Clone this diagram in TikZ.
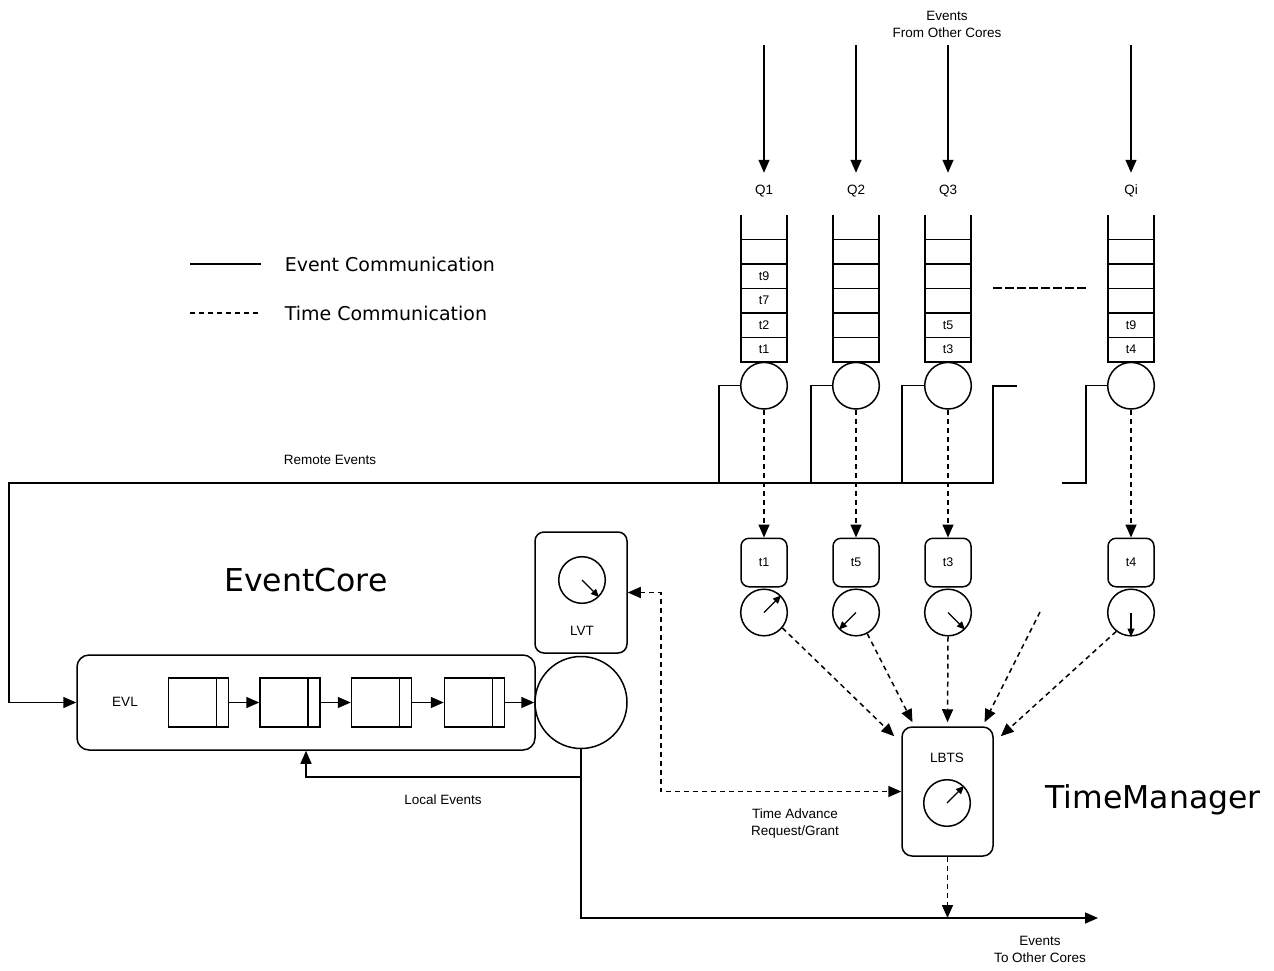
\documentclass[tikz,border=0pt]{standalone}
\usepackage{fontspec}
\setmainfont{Liberation Sans}
\newfontfamily\bigfont{DejaVu Sans}
\usetikzlibrary{arrows.meta,calc}
\begin{document}
\begin{tikzpicture}[x=1pt,y=-1pt, line width=1.5pt,
  tip/.style={-{Triangle[length=13pt,width=11pt]}},
  bothtips/.style={{Triangle[length=13pt,width=11pt]}-{Triangle[length=13pt,width=11pt]}},
  dsh/.style={dash pattern=on 5pt off 4pt},
  lbl/.style={font=\fontsize{13.5}{17}\selectfont, align=center, inner sep=0pt},
  tlab/.style={font=\fontsize{12.5}{14}\selectfont, inner sep=0pt},
  big/.style={font=\bigfont\fontsize{31.5}{36}\selectfont, inner sep=0pt},
  legend/.style={font=\bigfont\fontsize{19}{22}\selectfont, inner sep=0pt, anchor=west},
  qcirc/.style={circle, draw, minimum size=46.6pt, inner sep=0pt},
  cell/.style={draw, minimum width=46pt, minimum height=24.5pt, inner sep=0pt},
  rbox/.style={draw, rounded corners=8pt, minimum width=46pt, minimum height=48.5pt, inner sep=0pt},
  evbox/.style={draw, minimum width=60pt, minimum height=49pt, inner sep=0pt},
  needle/.style={line width=1.3pt, -{Triangle[length=8pt,width=7pt]}}
]
\useasboundingbox (0,0) rectangle (1274,970);

% legend
\coordinate (lg1a) at (190,264); \coordinate (lg1b) at (261,264);
\coordinate (lg2a) at (190,313); \coordinate (lg2b) at (261,313);
\draw (lg1a) -- (lg1b);
\draw[dsh, line width=1.2pt] (lg2a) -- (lg2b);
\node[legend] (lgt1) at (284,264) {Event Communication};
\node[legend] (lgt2) at (284,313) {Time Communication};

% titles
\node[big] (ectitle) at (306,580) {EventCore};
\node[big] (tmtitle) at (1153,800) {TimeManager};

% top label
\node[lbl] (fromcores) at (947,24) {Events\\From Other Cores};

% queues
\foreach \X/\n in {764/1, 856/2, 948/3, 1131/4}{
  \coordinate (top\n) at (\X,45);
  \node[lbl] (ql\n) at (\X,191) {};
  \foreach \k/\yy in {1/251.5, 2/276, 3/300.5, 4/325, 5/349.5}
    \node[cell] (q\n c\k) at (\X,\yy) {};
  \draw (\X-23,215) -- (\X-23,239.25) (\X+23,215) -- (\X+23,239.25);
  \node[qcirc] (c\n) at (\X,385.7) {};
  \node[rbox] (tb\n) at (\X,562.5) {};
  \node[qcirc] (k\n) at (\X,612.5) {};
}
\node[lbl] at (ql1) {Q1};
\node[lbl] at (ql2) {Q2};
\node[lbl] at (ql3) {Q3};
\node[lbl] at (ql4) {Qi};
\foreach \n in {1,2,3,4}
  \draw[tip, shorten >=17pt] (top\n) -- (ql\n.north);

% cell contents
\node[tlab] at (q1c2) {t9};
\node[tlab] at (q1c3) {t7};
\node[tlab] at (q1c4) {t2};
\node[tlab] at (q1c5) {t1};
\node[tlab] at (q3c4) {t5};
\node[tlab] at (q3c5) {t3};
\node[tlab] at (q4c4) {t9};
\node[tlab] at (q4c5) {t4};

% t boxes labels
\node[tlab] at (tb1) {t1};
\node[tlab] at (tb2) {t5};
\node[tlab] at (tb3) {t3};
\node[tlab] at (tb4) {t4};

% clock needles
\draw[needle] (k1.center) -- (k1.45);
\draw[needle] (k2.center) -- (k2.225);
\draw[needle] (k3.center) -- (k3.-45);
\draw[needle] (k4.center) -- (k4.south);

% dots between queues
\coordinate (dotsa) at (993,288); \coordinate (dotsb) at (1087,288);
\draw[line width=1.2pt, dash pattern=on 9pt off 3pt] (dotsa) -- (dotsb);

% dashed queue -> t boxes
\foreach \n in {1,2,3,4}
  \draw[dsh, tip] (c\n.south) -- (tb\n.north);

% remote events lines
\coordinate (r1) at (719,483);
\coordinate (r2) at (811,483);
\coordinate (r3) at (902,483);
\coordinate (rend) at (1017,386);
\coordinate (r4a) at (1086,483);
\coordinate (r4b) at (1062,483);
\draw (c1.west) -| (r1);
\draw (c2.west) -| (r2);
\draw (c3.west) -| (r3);
\draw (c4.west) -| (r4a) -- (r4b);

% EventCore
\node[draw, rounded corners=12pt, minimum width=458pt, minimum height=95pt, inner sep=0pt] (evl) at (306,702.5) {};
\node[lbl] (evllab) at (125,702) {EVL};
\node[evbox] (ev1) at (198.5,702.5) {};
\node[evbox] (ev2) at (290,702.5) {};
\node[evbox] (ev3) at (381.5,702.5) {};
\node[evbox] (ev4) at (474.5,702.5) {};
\foreach \n in {1,2,3,4}
  \draw ($(ev\n.north east)+(-13,0)$) -- ($(ev\n.south east)+(-13,0)$);
\node[circle, draw, minimum size=92pt, inner sep=0pt] (cpu) at (581,702.5) {};
\draw[tip] (ev1.east) -- (ev2.west);
\draw[tip] (ev2.east) -- (ev3.west);
\draw[tip] (ev3.east) -- (ev4.west);
\draw[tip] (ev4.east) -- (cpu.west);

\draw[tip] (rend) -- (993,386) -- (993,483) -- (9,483) -- (9,702.5) -- (evl.west);
\node[lbl] (remlab) at (330,460) {Remote Events};

% LVT
\node[draw, rounded corners=9pt, minimum width=92pt, minimum height=121pt, inner sep=0pt] (lvt) at (581,592.5) {};
\node[qcirc] (lvtk) at (582,580) {};
\draw[needle] (lvtk.center) -- (lvtk.-45);
\node[lbl] (lvtlab) at (582,631) {LVT};

% LBTS
\node[draw, rounded corners=10pt, minimum width=91pt, minimum height=129pt, inner sep=0pt] (lbts) at (947.5,791.5) {};
\node[lbl] (lbtslab) at (947,758) {LBTS};
\node[qcirc] (lbtsk) at (947,803) {};
\draw[needle] (lbtsk.center) -- (lbtsk.45);

% dashed arrows into LBTS
\coordinate (dang) at (1040,612);
\draw[dsh, tip] (k1.-40) -- ($(lbts.north west)+(-7,10)$);
\draw[dsh, tip] (k2.-62) -- ($(lbts.north)+(-35,-4)$);
\draw[dsh, tip, shorten >=4pt] (k3.south) -- (lbts.north);
\draw[dsh, tip] (dang) -- ($(lbts.north)+(37,-4)$);
\draw[dsh, tip] (k4.-128) -- ($(lbts.north east)+(7,10)$);

% time advance
\coordinate (tar) at (661,700);
\draw[dsh, bothtips] (lvt.east) -| (tar) |- (lbts.west);
\node[lbl] (talab) at (795,823.5) {Time Advance\\Request/Grant};

% local events & out
\coordinate (lecorner) at (306,777);
\draw[tip] (cpu.south) |- (lecorner) -- (evl.south -| lecorner);
\node[lbl] (lelab) at (443,800) {Local Events};
\coordinate (outend) at (1098,918);
\draw[tip] (cpu.south) |- (outend);
\draw[dsh, tip] (lbts.south) -- (lbts.south |- outend);
\node[lbl] (tocores) at (1040,949) {Events\\To Other Cores};
\end{tikzpicture}
\end{document}
